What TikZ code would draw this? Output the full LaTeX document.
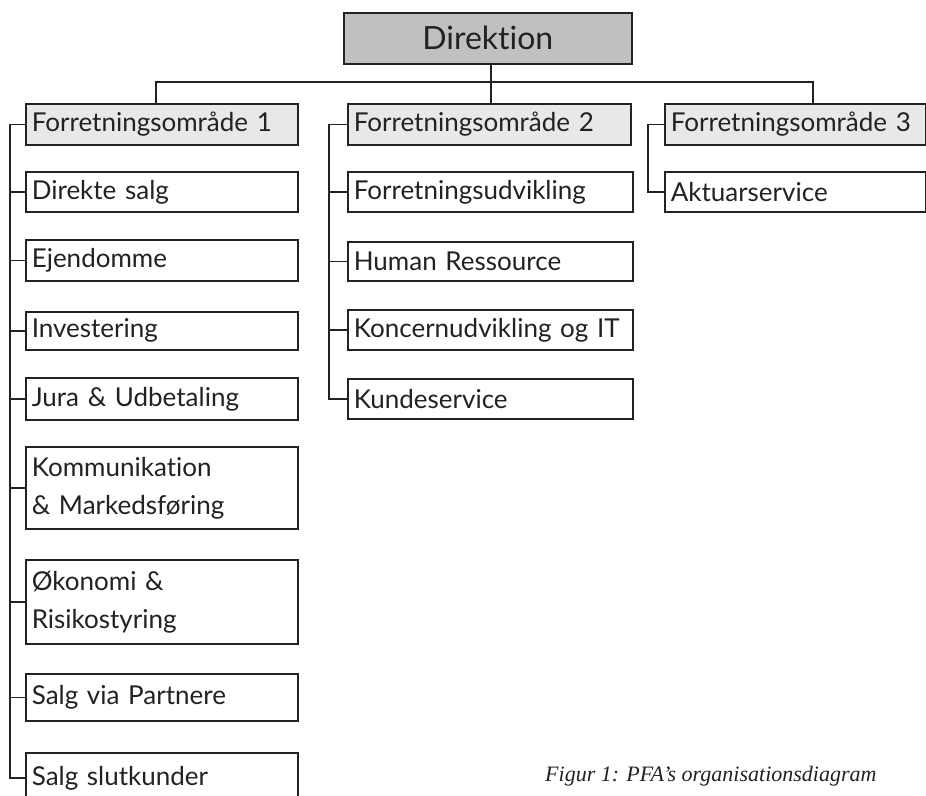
\documentclass[tikz,border=0pt]{standalone}
\usepackage{fontspec}
\newfontfamily\boxfont[Ligatures=NoCommon]{Lato}
\newfontfamily\capfont{Liberation Serif}
\definecolor{ink}{HTML}{222222}
\definecolor{dirgray}{HTML}{C0C0C2}
\definecolor{fogray}{HTML}{E8E8EA}
\begin{document}
\begin{tikzpicture}[x=1pt,y=-1pt,
  box/.style={draw=ink, line width=1.6pt, anchor=north west, align=left,
    inner xsep=6pt, inner ysep=0pt, text=ink,
    font=\boxfont\fontsize{26}{38}\selectfont},
  conn/.style={draw=ink, line width=1.6pt}]
\useasboundingbox (0,0) rectangle (926,795);
\clip (0,0) rectangle (926,795);
% top
\node[box, fill=dirgray, align=center, text width=276pt, minimum height=51pt,
  font=\boxfont\fontsize{32}{36}\selectfont] (dir) at (343,12) {Direktion};
\node[box, fill=fogray, text width=260pt, minimum height=41pt] (fo1) at (25,103) {Forretningsområde 1};
\node[box, fill=fogray, text width=271pt, minimum height=41pt] (fo2) at (347,103) {Forretningsområde 2};
\node[box, fill=fogray, text width=249pt, minimum height=41pt] (fo3) at (664,103) {Forretningsområde 3};
% column 1
\node[box, text width=260pt, minimum height=40pt] (c11) at (25,171) {Direkte salg};
\node[box, text width=260pt, minimum height=41pt] (c12) at (25,239) {Ejendomme};
\node[box, text width=260pt, minimum height=38pt] (c13) at (25,311) {Investering};
\node[box, text width=260pt, minimum height=42pt] (c14) at (25,377) {Jura \& Udbetaling};
\node[box, text width=260pt, minimum height=82pt] (c15) at (25,446) {Kommunikation\\\& Markedsføring};
\node[box, text width=260pt, minimum height=84pt] (c16) at (25,559) {Økonomi \&\\Risikostyring};
\node[box, text width=260pt, minimum height=47pt] (c17) at (25,673) {Salg via Partnere};
\node[box, text width=260pt, minimum height=50pt] (c18) at (25,752) {Salg slutkunder};
% column 2
\node[box, text width=273pt, minimum height=40pt] (c21) at (347,171) {Forretningsudvikling};
\node[box, text width=273pt, minimum height=39pt] (c22) at (347,241) {Human Ressource};
\node[box, text width=273pt, minimum height=40pt] (c23) at (347,309) {Koncernudvikling og IT};
\node[box, text width=273pt, minimum height=40pt] (c24) at (347,378) {Kundeservice};
% column 3
\node[box, text width=249pt, minimum height=40pt] (c31) at (664,171) {Aktuarservice};
% bus
\coordinate (b1) at (156,82);
\coordinate (b2) at (491,82);
\coordinate (b3) at (813,82);
\draw[conn] (dir.south -| b2) -- (b2);
\draw[conn] (b1 |- fo1.north) -- (b1) -- (b3) -- (b3 |- fo3.north);
\draw[conn] (b2) -- (b2 |- fo2.north);
% brackets
\foreach \c in {c11,c12,c13,c14,c15,c16,c17,c18}
  \draw[conn] (fo1.west) -- ++(-15,0) |- (\c.west);
\foreach \c in {c21,c22,c23,c24}
  \draw[conn] (fo2.west) -- ++(-18,0) |- (\c.west);
\draw[conn] (fo3.west) -- ++(-16,0) |- (c31.west);
% caption
\node[anchor=base west, inner sep=0pt, text=ink,
  font=\capfont\itshape\fontsize{22}{26}\selectfont] (cap) at (545,781)
  {Figur 1: PFA’s organisationsdiagram};
\end{tikzpicture}
\end{document}
